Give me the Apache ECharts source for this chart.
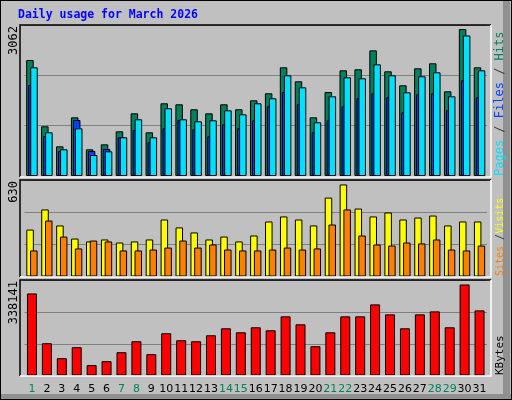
<!DOCTYPE html>
<html><head><meta charset="utf-8">
<script src="https://cdn.jsdelivr.net/npm/echarts@6/dist/echarts.min.js"></script>
<style>html,body{margin:0;padding:0;background:#c0c0c0}#c{width:512px;height:400px}</style>
</head><body><div id="c"></div>
<script>
const days = ['1','2','3','4','5','6','7','8','9','10','11','12','13','14','15','16','17','18','19','20','21','22','23','24','25','26','27','28','29','30','31'];
const weekendDays = ['1','7','8','14','15','21','22','28','29'];
const hits  = [2352,1008,602,1190,541,642,906,1271,886,1474,1454,1353,1271,1454,1353,1535,1677,2204,1920,1190,1703,2143,2164,2548,2123,1839,2184,2285,1717,2980,2204];
const files = [2204,886,541,967,426,500,785,1150,785,1373,1150,1109,1129,1332,1251,1474,1576,2042,1798,1089,1616,2001,1981,2264,2042,1697,2022,2102,1616,2850,2143];
const pages = [1845,811,507,1136,507,548,785,933,683,967,1136,947,805,1048,967,1129,1413,1703,1454,886,1129,1413,1576,1677,1596,1292,1657,1677,1332,1940,1596];
const visits = [308,440,335,249,230,243,223,230,243,374,322,289,243,262,230,269,361,394,374,335,518,604,446,394,420,374,387,400,335,361,361];
const sites  = [171,367,262,184,236,230,171,171,177,190,236,190,210,177,171,171,177,190,177,184,341,440,269,210,203,223,217,243,177,171,203];
const kbytes = [292000,114900,61700,100700,36900,51000,82900,121900,75900,150300,125500,121900,143200,168000,153800,171600,160900,210500,182200,104200,153800,210500,210500,253100,217600,168000,217600,228300,171600,324000,231800];
const maxHits = 3062, maxVisits = 630, maxKB = 338141;

const C = {hits:'#00805c', files:'#0040ff', pages:'#00e0ff', visits:'#ffff00', sites:'#ff8000', kb:'#ff0000'};
const chart = echarts.init(document.getElementById('c'));
const L = 24.5, W = 462.5;
const panels = [[25,151],[180.5,96],[280.5,95]];
const grids = panels.map(p=>({left:L, width:W, top:p[0], height:p[1]}));
function xa(i, show){
  return {type:'category', gridIndex:i, data:days, boundaryGap:true,
    axisLine:{show:false}, axisTick:{show:false},
    axisLabel:{show:show, interval:0, margin:8, fontFamily:'DejaVu Sans', fontSize:11,
      formatter:v=> weekendDays.includes(v)?'{w|'+v+'}':'{n|'+v+'}',
      rich:{w:{color:C.hits,fontFamily:'DejaVu Sans',fontSize:11},n:{color:'#000',fontFamily:'DejaVu Sans',fontSize:11}}}};
}
function ya(i, max){
  return {type:'value', gridIndex:i, min:0, max:max, interval:max/3,
    axisLine:{show:false}, axisTick:{show:false}, axisLabel:{show:false},
    splitLine:{lineStyle:{color:'#808080', width:1}}};
}
const bs = c=>({color:c, borderColor:'#000', borderWidth:1});
function frame(x0,y0,x1,y1){
  return [
    {type:'polyline', shape:{points:[[x0,y1],[x0,y0],[x1,y0]]}, style:{stroke:'#000',lineWidth:1.5,fill:null}, z:100},
    {type:'polyline', shape:{points:[[x1,y0],[x1,y1],[x0,y1]]}, style:{stroke:'#fff',lineWidth:1.5,fill:null}, z:100}
  ];
}
const vt = (x,y,txt,align,size,rich)=>({type:'text', x:x, y:y, rotation:Math.PI/2, z:100,
  style:{text:txt, align:align, verticalAlign:'middle', fontFamily:'DejaVu Sans Mono', fontSize:size, fill:'#000', rich:rich}});
chart.setOption({
  animation:false, backgroundColor:'#c0c0c0',
  grid:grids,
  xAxis:[xa(0,false), xa(1,false), xa(2,true)],
  yAxis:[ya(0,maxHits), ya(1,maxVisits), ya(2,maxKB)],
  series:[
    {type:'bar', name:'Hits', xAxisIndex:0, yAxisIndex:0, data:hits, barWidth:7.5, barGap:'-73%', itemStyle:bs(C.hits)},
    {type:'bar', name:'Pages', xAxisIndex:0, yAxisIndex:0, data:pages, barWidth:7.5, barGap:'-73%', itemStyle:bs(C.files)},
    {type:'bar', name:'Files', xAxisIndex:0, yAxisIndex:0, data:files, barWidth:7.5, barGap:'-73%', itemStyle:bs(C.pages)},
    {type:'bar', name:'Visits', xAxisIndex:1, yAxisIndex:1, data:visits, barWidth:7.5, barGap:'-50%', itemStyle:bs(C.visits)},
    {type:'bar', name:'Sites', xAxisIndex:1, yAxisIndex:1, data:sites, barWidth:7.5, barGap:'-50%', itemStyle:bs(C.sites)},
    {type:'bar', name:'KBytes', xAxisIndex:2, yAxisIndex:2, data:kbytes, barWidth:10, itemStyle:bs(C.kb)}
  ],
  graphic:[
    {type:'rect', shape:{x:0,y:0,width:512,height:400}, style:{fill:null, stroke:'#000', lineWidth:2}, z:90},
    {type:'rect', shape:{x:503,y:0,width:7,height:400}, style:{fill:'#909090'}, z:91},
    {type:'rect', shape:{x:0,y:394,width:512,height:5}, style:{fill:'#909090'}, z:91},
    {type:'rect', shape:{x:0,y:0,width:512,height:400}, style:{fill:null, stroke:'#000', lineWidth:2}, z:92},
    ...frame(20,25,491,177), ...frame(20,180,491,277), ...frame(20,280,491,376),
    {type:'text', x:18, y:15, z:100, style:{text:'Daily usage for March 2026', fontFamily:'DejaVu Sans Mono', fontWeight:'bold', fontSize:11.5, fill:'#0000ff', verticalAlign:'middle'}},
    vt(14,26,'3062','right',12), vt(14,181,'630','right',12), vt(14,281,'338141','right',12),
    vt(500,176,'{p|Pages}{s| / }{f|Files}{s| / }{h|Hits}','left',12,
      {p:{fill:C.pages,fontFamily:'DejaVu Sans Mono',fontSize:12},f:{fill:C.files,fontFamily:'DejaVu Sans Mono',fontSize:12},h:{fill:C.hits,fontFamily:'DejaVu Sans Mono',fontSize:12},s:{fill:'#404040',fontFamily:'DejaVu Sans Mono',fontSize:12}}),
    vt(500,276,'{s|Sites}{k| /}{v|Visits}','left',10,
      {s:{fill:C.sites,fontFamily:'DejaVu Sans Mono',fontSize:10},k:{fill:'#404040',fontFamily:'DejaVu Sans Mono',fontSize:10},v:{fill:C.visits,fontFamily:'DejaVu Sans Mono',fontSize:10}}),
    vt(500,375,'KBytes','left',11,null)
  ]
});
// KBytes label colour
chart.setOption({graphic:[]});
</script></body></html>
